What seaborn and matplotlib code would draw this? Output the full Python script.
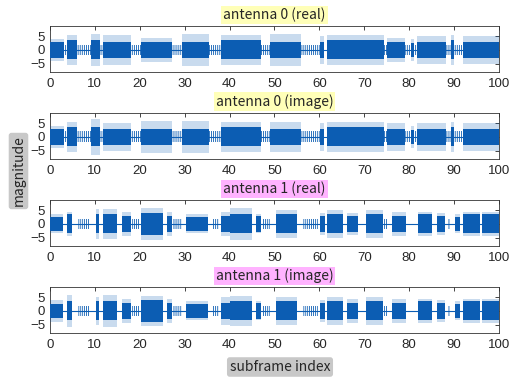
import numpy as np
import pandas as pd
import matplotlib
matplotlib.use("Agg")
import matplotlib.pyplot as plt
import seaborn as sns

# ====== burst segments (subframe index) ======
ant0_start = [0.0, 3.9, 9.1, 11.9, 20.2, 29.4, 38.0, 49.1, 60.2, 61.6, 75.1, 80.4, 81.7, 89.3, 92.0]
ant0_end = [3.1, 6.0, 11.2, 18.0, 27.1, 35.5, 47.1, 55.9, 61.0, 74.3, 79.1, 81.1, 88.3, 90.0, 100.0]
ant0_real_body = [3.0, 3.5, 3.5, 3.0, 3.0, 3.0, 3.5, 3.0, 3.0, 3.5, 3.0, 2.5, 3.0, 3.5, 3.0]
ant0_real_peak = [4.0, 5.5, 6.0, 5.5, 4.5, 6.0, 5.5, 6.0, 5.0, 5.5, 4.5, 4.0, 5.0, 5.5, 5.0]
ant0_imag_body = [3.0, 3.5, 3.5, 3.0, 3.0, 3.0, 3.5, 3.0, 3.0, 3.5, 3.0, 2.5, 3.0, 3.5, 3.0]
ant0_imag_peak = [4.0, 5.5, 6.5, 5.0, 6.0, 6.0, 5.5, 5.5, 5.0, 5.5, 5.0, 4.0, 5.0, 5.5, 5.0]
ant0_pilot_start = [3.1, 6.0, 11.2, 18.0, 27.1, 35.5, 47.1, 55.9, 74.3, 79.1, 81.1, 88.3, 90.0]
ant0_pilot_end = [3.9, 9.1, 11.9, 20.2, 29.4, 38.0, 49.1, 60.2, 75.1, 80.4, 81.7, 89.3, 92.0]

ant1_start = [0.0, 3.7, 10.3, 11.9, 16.0, 20.2, 26.0, 30.3, 38.0, 40.2, 46.0,
              50.3, 60.2, 61.8, 66.1, 70.3, 76.1, 81.9, 86.1, 90.3, 92.0, 96.2]
ant1_end = [3.0, 4.8, 11.0, 14.9, 18.0, 25.1, 27.1, 35.1, 40.1, 45.1, 47.1,
            55.0, 61.3, 65.2, 68.7, 74.1, 79.3, 85.2, 87.9, 91.3, 95.7, 100.0]
ant1_real_body = [2.5, 3.5, 3.5, 3.5, 3.0, 4.0, 3.0, 2.5, 3.0, 3.5, 3.0,
                  3.5, 3.0, 3.5, 3.0, 3.5, 3.0, 3.5, 3.0, 2.5, 3.5, 3.5]
ant1_real_peak = [3.5, 4.5, 5.5, 5.5, 4.5, 6.0, 4.5, 3.5, 4.5, 6.0, 3.5,
                  5.0, 4.0, 5.0, 4.0, 5.0, 4.5, 4.5, 4.0, 3.5, 4.5, 4.5]
ant1_imag_body = [2.5, 3.5, 3.5, 3.5, 3.0, 4.0, 3.0, 2.5, 3.0, 3.5, 3.0,
                  3.5, 3.0, 3.5, 3.0, 3.5, 3.0, 3.5, 3.0, 2.5, 3.5, 3.5]
ant1_imag_peak = [4.0, 6.0, 5.0, 6.0, 4.5, 5.5, 4.5, 3.5, 5.0, 5.5, 3.5,
                  5.0, 4.0, 5.0, 4.5, 5.0, 4.5, 4.5, 4.0, 3.5, 4.5, 4.5]
ant1_pilot_start = [6.3, 18.2, 27.4, 36.2, 47.4, 56.4, 74.3, 88.7]
ant1_pilot_end = [8.9, 20.1, 29.4, 37.7, 49.0, 59.8, 75.0, 89.0]

pilot_amp = 2.0

titles = ["antenna 0 (real)", "antenna 0 (image)", "antenna 1 (real)", "antenna 1 (image)"]
title_colors = ["#ffffb8", "#ffffb8", "#ffb3ff", "#ffb3ff"]
xticks = [0, 10, 20, 30, 40, 50, 60, 70, 80, 90, 100]
yticks = [-5, 0, 5]

panels = [
    (ant0_start, ant0_end, ant0_real_body, ant0_real_peak, ant0_pilot_start, ant0_pilot_end),
    (ant0_start, ant0_end, ant0_imag_body, ant0_imag_peak, ant0_pilot_start, ant0_pilot_end),
    (ant1_start, ant1_end, ant1_real_body, ant1_real_peak, ant1_pilot_start, ant1_pilot_end),
    (ant1_start, ant1_end, ant1_imag_body, ant1_imag_peak, ant1_pilot_start, ant1_pilot_end),
]

# ====== Style ======
sns.set_theme(style="white")
plt.rcParams["font.family"] = ["Liberation Sans", "DejaVu Sans"]
plt.rcParams["hatch.linewidth"] = 0.6
blue = "#0c5db3"
label_font = ["Noto Sans CJK KR", "DejaVu Sans"]

fig = plt.figure(figsize=(5.19, 3.78), dpi=100)
bottoms = [0.8095, 0.5794, 0.3492, 0.119]

for i, (start, end, body, peak, p_start, p_end) in enumerate(panels):
    ax = fig.add_axes([0.0963, bottoms[i], 0.865, 0.121])
    bursts = pd.DataFrame({"start": start, "end": end, "body": body, "peak": peak})
    ax.axhline(0, color=blue, lw=0.8, zorder=1)
    for s, e in zip(p_start, p_end):
        ax.fill_between([s, e], -pilot_amp, pilot_amp, facecolor="none",
                        edgecolor=blue, hatch="|" * 8, linewidth=0, zorder=2)
    for _, r in bursts.iterrows():
        ax.fill_between([r["start"], r["end"]], -r["peak"], r["peak"],
                        color=blue, alpha=0.22, linewidth=0, zorder=3)
        ax.fill_between([r["start"], r["end"]], -r["body"], r["body"],
                        color=blue, linewidth=0, zorder=4)
    ax.set_xlim(0, 100)
    ax.set_ylim(-8.1, 8.7)
    ax.set_xticks(xticks)
    ax.set_yticks(yticks)
    ax.tick_params(direction="in", length=3, width=0.6, top=True, right=True,
                   labelsize=9.5, colors="#262626", pad=4.5)
    ax.tick_params(axis="y", pad=3.5)
    for sp in ax.spines.values():
        sp.set_linewidth(0.6)
        sp.set_color("#333333")
    ax.set_title(titles[i], fontsize=10, family=label_font, pad=5,
                 bbox=dict(boxstyle="square,pad=0.15", facecolor=title_colors[i],
                           edgecolor="none"))

fig.text(18.5 / 519, 1 - 171 / 378, "magnitude", rotation=90, ha="center", va="center",
         fontsize=10, family=label_font,
         bbox=dict(boxstyle="round,pad=0.2,rounding_size=0.2", facecolor="#c8c8c8", edgecolor="none"))
fig.text(280 / 519, 1 - 367 / 378, "subframe index", ha="center", va="center",
         fontsize=10, family=label_font,
         bbox=dict(boxstyle="round,pad=0.2,rounding_size=0.2", facecolor="#c8c8c8", edgecolor="none"))

fig.savefig("out.png", dpi=100)
